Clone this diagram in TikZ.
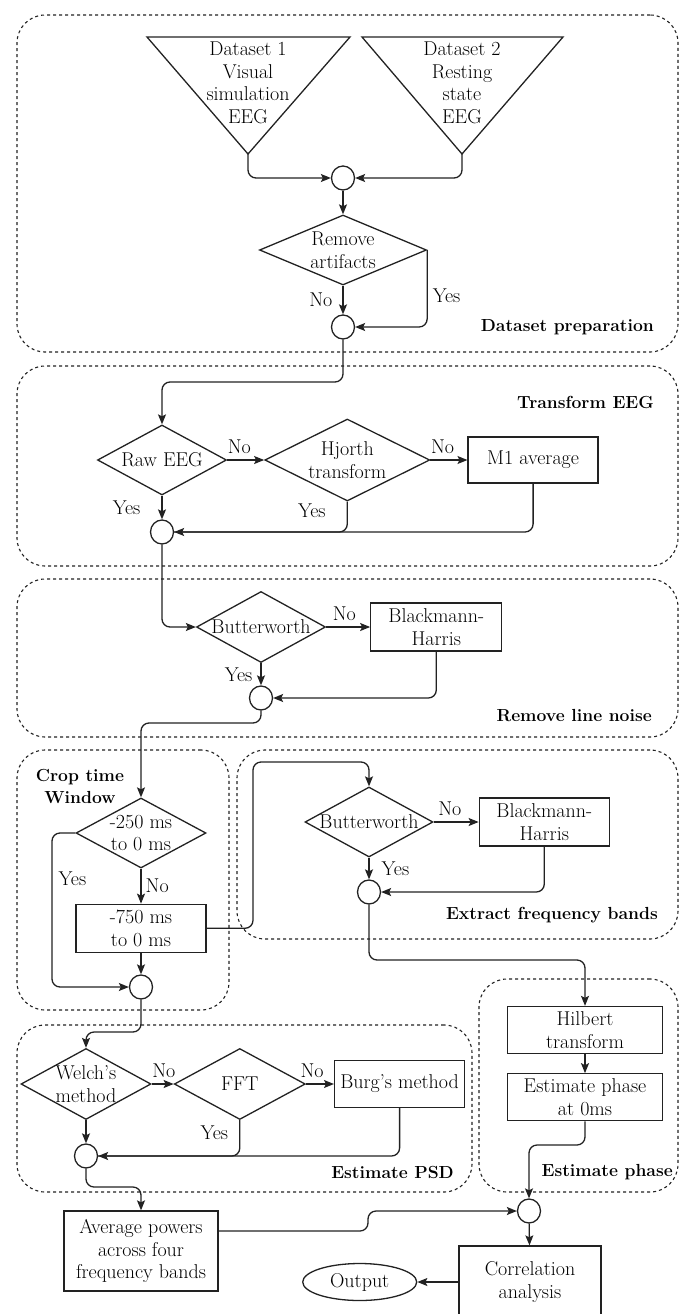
\documentclass[tikz,border=0pt]{standalone}
\usetikzlibrary{arrows.meta,positioning,fit,calc,shapes.geometric}
\definecolor{ink}{HTML}{222222}
\tikzset{
  block/.style={draw=ink, line width=1.3pt, align=center, inner sep=0pt, font=\fontsize{20}{22.5}\selectfont},
  decision/.style={diamond, draw=ink, line width=1.3pt, align=center, inner sep=-4pt, aspect=1.85, font=\fontsize{20}{22.5}\selectfont},
  junction/.style={ellipse, draw=ink, line width=1.3pt, minimum width=23pt, minimum height=24pt, inner sep=0pt},
  terminal/.style={ellipse, draw=ink, line width=1.3pt, inner sep=0pt, font=\fontsize{20}{22.5}\selectfont},
  source/.style={draw=ink, line width=1.3pt},
  arrow/.style={-{Stealth[length=10pt,width=8pt,inset=2pt]}, line width=1.3pt, draw=ink, rounded corners=8pt},
  flow/.style={line width=1.3pt, draw=ink, rounded corners=8pt},
  group/.style={draw=ink, dash pattern=on 3pt off 3pt, line width=1.1pt, rounded corners=28pt, inner sep=0pt},
  grouplabel/.style={font=\fontsize{17.5}{22}\selectfont\bfseries, inner sep=0pt, align=center},
  answer/.style={font=\fontsize{20}{22.5}\selectfont, inner sep=0pt}
}

\begin{document}
\begin{tikzpicture}[x=1pt, y=-1pt]
  \useasboundingbox (0,0) rectangle (679,1314);

  % dashed stages
  \node[group, fit={(17,15) (678,352)}] (prepgroup) {};
  \node[group, fit={(17,366) (678,566)}] (transgroup) {};
  \node[group, fit={(17,579) (678,737)}] (noisegroup) {};
  \node[group, fit={(17,750) (229,1010)}] (cropgroup) {};
  \node[group, fit={(237,750) (678,939)}] (bandgroup) {};
  \node[group, fit={(17,1025) (472,1192)}] (psdgroup) {};
  \node[group, fit={(479,979) (678,1192)}] (phasegroup) {};

  \node[grouplabel, anchor=east] (preplabel) at (654,327) {Dataset preparation};
  \node[grouplabel, anchor=east] (translabel) at (654,402) {Transform EEG};
  \node[grouplabel, anchor=east] (noiselabel) at (652,716) {Remove line noise};
  \node[grouplabel] (croplabel) at (80,786) {Crop time\\Window};
  \node[grouplabel, anchor=east] (bandlabel) at (658,915) {Extract frequency bands};
  \node[grouplabel, anchor=east] (psdlabel) at (454,1172) {Estimate PSD};
  \node[grouplabel, anchor=east] (phaselabel) at (673,1172) {Estimate phase};

  % datasets
  \coordinate (set1tip) at (248,154);
  \coordinate (set2tip) at (462,154);
  \draw[source] (147,37) -- (350,37) -- (set1tip) -- cycle;
  \draw[source] (362,37) -- (563,37) -- (set2tip) -- cycle;
  \node[answer, align=center] (set1) at (248,83) {Dataset 1\\Visual\\simulation\\EEG};
  \node[answer, align=center] (set2) at (462,83) {Dataset 2\\Resting\\state\\EEG};

  \node[junction] (join1) at (343,178) {};
  \node[decision, aspect=2.3, minimum width=167pt, minimum height=70pt] (artifacts) at (343,250) {Remove\\artifacts};
  \node[junction] (join2) at (343,327) {};

  % transform
  \node[decision, minimum width=129pt, minimum height=70pt] (raw) at (162,460) {Raw EEG};
  \node[decision, aspect=2, minimum width=165pt, minimum height=82pt, right=37pt of raw] (hjorth) {Hjorth\\transform};
  \node[block, minimum width=130pt, minimum height=46pt, right=37pt of hjorth] (m1) {M1 average};
  \node[junction] (join3) at (162,532) {};

  % line noise
  \node[decision, minimum width=129pt, minimum height=71pt] (bw1) at (261,627) {Butterworth};
  \node[block, minimum width=131pt, minimum height=48pt, right=44pt of bw1] (bh1) {Blackmann-\\Harris};
  \node[junction] (join4) at (261,698) {};

  % time window
  \node[decision, minimum width=130pt, minimum height=70pt] (ms250) at (141,833) {-250 ms\\to 0 ms};
  \node[block, minimum width=130pt, minimum height=48pt, below=35pt of ms250] (ms750) {-750 ms\\to 0 ms};
  \node[junction] (join5) at (141,987) {};

  % frequency bands
  \node[decision, minimum width=128pt, minimum height=70pt] (bw2) at (369,822) {Butterworth};
  \node[block, minimum width=130pt, minimum height=48pt, right=45pt of bw2] (bh2) {Blackmann-\\Harris};
  \node[junction] (join6) at (369,892) {};

  % phase
  \node[block, minimum width=155pt, minimum height=47pt] (hilbert) at (585,1030) {Hilbert\\transform};
  \node[block, minimum width=155pt, minimum height=47pt, below=19pt of hilbert] (phase) {Estimate phase\\at 0ms};
  \node[junction] (join7) at (529,1211) {};

  % PSD
  \node[decision, minimum width=130pt, minimum height=71pt] (welch) at (86,1084) {Welch's\\method};
  \node[decision, minimum width=131pt, minimum height=71pt, right=22pt of welch] (fft) {FFT};
  \node[block, minimum width=130pt, minimum height=47pt, right=28pt of fft] (burg) {Burg's method};
  \node[junction] (join8) at (86,1156) {};

  \node[block, minimum width=154pt, minimum height=80pt] (avg) at (141,1251) {Average powers\\across four\\frequency bands};
  \node[block, minimum width=142pt, minimum height=72pt] (corr) at (530,1282) {Correlation\\analysis};
  \node[terminal, minimum width=114pt, minimum height=37pt, left=41pt of corr] (output) {Output};

  % connectors
  \draw[arrow] (set1tip) |- (join1);
  \draw[arrow] (set2tip) |- (join1);
  \draw[arrow] (join1) -- (artifacts);
  \draw[arrow] (artifacts) -- node[answer, left=10pt]{No} (join2);
  \draw[arrow] (artifacts.east) |- node[answer, pos=0.3, right=5pt]{Yes} (join2);
  \draw[arrow] (join2) -- (join2 |- 0,382) -| (raw);

  \draw[arrow] (raw) -- node[answer, pos=0, above right=6pt and 0pt]{No} (hjorth);
  \draw[arrow] (hjorth) -- node[answer, pos=0, above right=6pt and 0pt]{No} (m1);
  \draw[arrow] (raw) -- node[answer, left=21pt]{Yes} (join3);
  \draw[flow] (hjorth) |- node[answer, pos=0.15, left=21pt]{Yes} (join3);
  \draw[arrow] (m1) |- (join3);
  \draw[arrow] (join3) |- (bw1);

  \draw[arrow] (bw1) -- node[answer, pos=0, above right=6pt and 6pt]{No} (bh1);
  \draw[arrow] (bw1) -- node[answer, left=8pt]{Yes} (join4);
  \draw[arrow] (bh1) |- (join4);
  \draw[arrow] (join4) -- (join4 |- 0,723) -| (ms250);

  \draw[arrow] (ms250) -- node[answer, right=4pt]{No} (ms750);
  \draw[arrow] (ms250.west) -- (ms250.west -| 52,0) |- node[answer, pos=0.15, right=6pt]{Yes} (join5);
  \draw[arrow] (ms750) -- (join5);
  \draw[arrow] (ms750.east) -| (253,762) -| (bw2);

  \draw[arrow] (bw2) -- node[answer, pos=0, above right=6pt and 4pt]{No} (bh2);
  \draw[arrow] (bw2) -- node[answer, right=12pt]{Yes} (join6);
  \draw[arrow] (bh2) |- (join6);
  \draw[arrow] (join6) -- (join6 |- 0,960) -| (hilbert);

  \draw[arrow] (hilbert) -- (phase);
  \draw[arrow] (phase) -- (phase |- 0,1145) -| (join7);

  \draw[arrow] (join5) -- (join5 |- 0,1032) -| (welch);
  \draw[arrow] (welch) -- node[answer, pos=0, above right=6pt and 0pt]{No} (fft);
  \draw[arrow] (fft) -- node[answer, pos=0, above right=6pt and -6pt]{No} (burg);
  \draw[arrow] (welch) -- (join8);
  \draw[flow] (fft) |- node[answer, pos=0.18, left=11pt]{Yes} (join8);
  \draw[arrow] (burg) |- (join8);
  \draw[arrow] (join8) -- (join8 |- 0,1187) -| (avg);

  \draw[arrow] ([yshift=20pt]avg.east) -| (368,1211) -- (join7);
  \draw[arrow] (join7) -- (corr);
  \draw[arrow] (corr) -- (output);
\end{tikzpicture}
\end{document}
